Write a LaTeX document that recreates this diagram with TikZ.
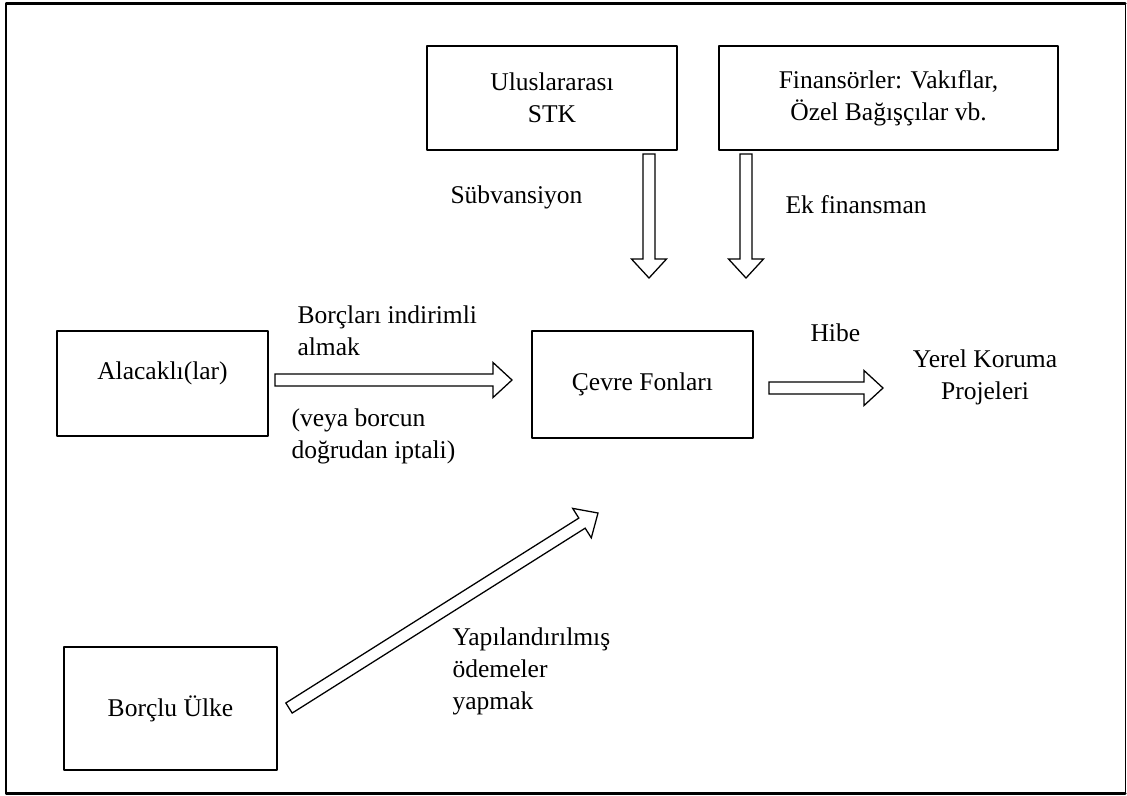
\documentclass[tikz,border=0pt]{standalone}
\usepackage{fontspec}
\setmainfont{Liberation Serif}
\usetikzlibrary{calc}

%hollow block arrow from #1 to #2
\newcommand{\blockarrow}[2]{%
  \coordinate (hb) at ($(#2)!8.9pt!(#1)$);
  \draw[hollow] ($(#1)!2.8pt!90:(#2)$) -- ($(hb)!2.8pt!90:(#2)$) -- ($(hb)!8.2pt!90:(#2)$) -- (#2)
    -- ($(hb)!8.2pt!-90:(#2)$) -- ($(hb)!2.8pt!-90:(#2)$) -- ($(#1)!2.8pt!-90:(#2)$) -- cycle;}

\begin{document}
\begin{tikzpicture}
    [x=0.47pt,y=-0.47pt,line cap=round,line join=round,
     box/.style={draw,line width=0.6pt,rectangle,align=center,inner sep=0pt},
     hollow/.style={draw,fill=white,line width=0.6pt,line join=miter},
     every node/.style={font=\fontsize{12}{15}\selectfont}]
\useasboundingbox (0,0) rectangle (1127,795);
%outer frame
\draw[line width=1.4pt] (1125,3) -- (6,3) -- (6,793) -- (1125,793);
\draw[line width=0.4pt] (1125,3) -- (1125,793);

%the boxes
\node[box,minimum width=117.5pt,minimum height=48.9pt] (stk) at (552,98) {Uluslararası\\STK};
\node[box,minimum width=159.3pt,minimum height=48.9pt] (fin) at (888.5,98) {Finansörler: Vakıflar,\\Özel Bağışçılar vb.};
\node[box,minimum width=99.2pt,minimum height=49.4pt,text depth=12pt] (alac) at (162.5,383.5) {Alacaklı(lar)};
\node[box,minimum width=103.9pt,minimum height=50.3pt] (cevre) at (642.5,384.5) {Çevre Fonları};
\node[box,minimum width=100.1pt,minimum height=57.8pt] (borclu) at (170.5,708.5) {Borçlu Ülke};
\node[align=center] (yerel) at (985,377) {Yerel Koruma\\Projeleri};

%block arrows
\coordinate (s1) at (649,154); \coordinate (s2) at (649,278);
\coordinate (f1) at (746,154); \coordinate (f2) at (746,278);
\coordinate (a1) at (275,380); \coordinate (a2) at (512,380);
\coordinate (c1) at (769,388); \coordinate (c2) at (883,388);
\coordinate (b1) at (289,708); \coordinate (b2) at (598,513);
\blockarrow{s1}{s2}
\blockarrow{f1}{f2}
\blockarrow{a1}{a2}
\blockarrow{c1}{c2}
\blockarrow{b1}{b2}

%labels
\node[anchor=west] (sub) at (443,197) {Sübvansiyon};
\node[anchor=west] (ek) at (778,205) {Ek finansman};
\node[anchor=west,align=left] (indir) at (290,331) {Borçları indirimli\\almak};
\node[anchor=west,align=left] (iptal) at (284,436) {(veya borcun\\doğrudan iptali)};
\node[anchor=west] (hibe) at (803,333) {Hibe};
\node[anchor=west,align=left] (odeme) at (445,671) {Yapılandırılmış\\ödemeler\\yapmak};

\end{tikzpicture}
\end{document}
